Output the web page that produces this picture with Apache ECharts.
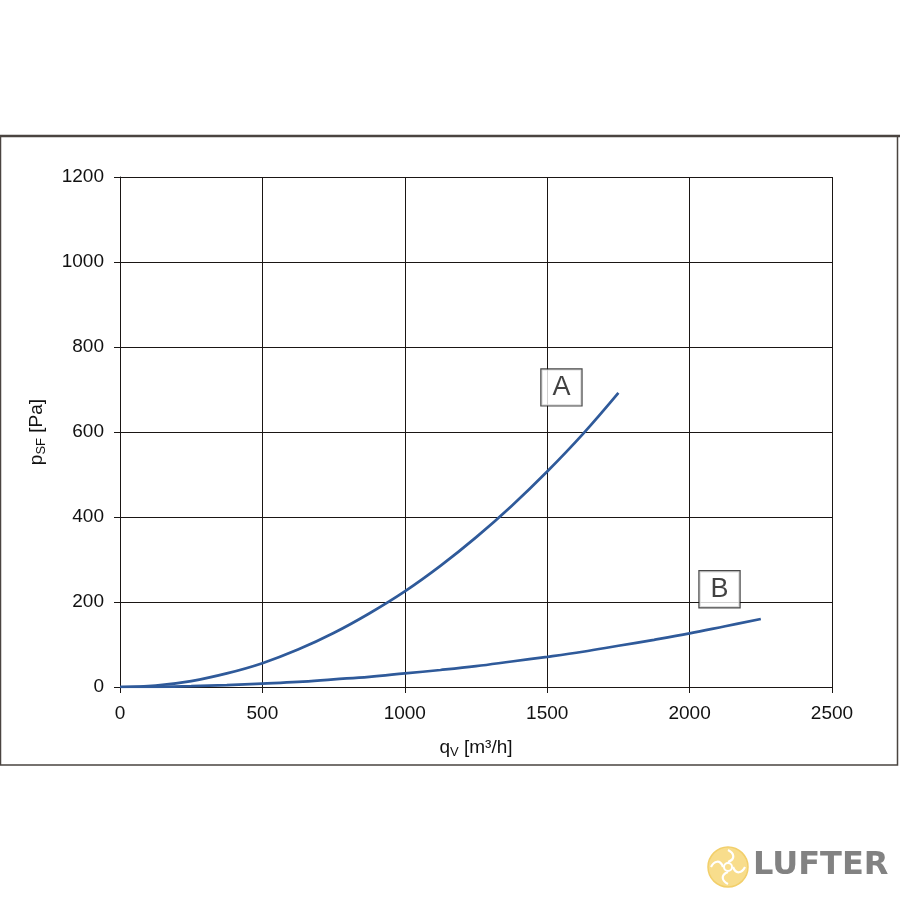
<!DOCTYPE html>
<html><head><meta charset="utf-8">
<script src="https://cdn.jsdelivr.net/npm/echarts@6/dist/echarts.min.js"></script>
<style>html,body{margin:0;padding:0;background:#fff}#c{width:900px;height:900px}</style>
</head><body><div id="c"></div>
<script>
const xTicks = [0, 500, 1000, 1500, 2000, 2500];
const yTicks = [0, 200, 400, 600, 800, 1000, 1200];
const curveA_q = [0, 125, 250, 375, 500, 625, 750, 875, 1000, 1125, 1250, 1375, 1500, 1625, 1750];
const curveA_p = [0, 3.5, 14, 32, 56, 88, 127, 173, 225, 285, 352, 426, 507, 595, 692];
const curveB_q = [0, 125, 250, 375, 500, 625, 750, 875, 1000, 1125, 1250, 1375, 1500, 1625, 1750, 1875, 2000, 2125, 2250];
const curveB_p = [0, 0.5, 2, 4.4, 8, 12, 18, 24, 32, 40, 49, 60, 71, 83, 97, 111, 126, 143, 160];
const labelNames = ['A', 'B'];
const labelPos = [[1550, 705], [2105, 230]];

const chart = echarts.init(document.getElementById('c'), null, {renderer: 'canvas'});
const font = 'Liberation Sans, Arial, sans-serif';
const lineColor = '#2f5a9a';
const gridColor = '#1a1614';
const txt = '#111';

function pairs(xs, ys){ return xs.map((x,i)=>[x, ys[i]]); }

chart.setOption({
  backgroundColor: '#fff',
  animation: false,
  grid: {left: 120, right: 68, top: 177, bottom: 213, containLabel: false},
  xAxis: {
    type: 'value', min: 0, max: 2500, interval: 500,
    name: '{n|q}{s|V}{n| [m³/h]}', nameLocation: 'middle', nameGap: 50,
    nameTextStyle: {rich: {
      n: {fontFamily: font, fontSize: 19, color: txt},
      s: {fontFamily: font, fontSize: 13, color: txt, verticalAlign: 'bottom', padding: [9,0,0,0]}
    }},
    axisLine: {show: true, lineStyle: {color: gridColor, width: 1}},
    axisTick: {show: true, inside: false, length: 6, lineStyle: {color: gridColor}},
    axisLabel: {fontFamily: font, fontSize: 19, color: txt, margin: 17,
      formatter: v => String(v)},
    splitLine: {show: true, lineStyle: {color: gridColor, width: 1}}
  },
  yAxis: {
    type: 'value', min: 0, max: 1200, interval: 200,
    name: '{n|p}{s|SF}{n| [Pa]}', nameLocation: 'middle', nameGap: 72, nameRotate: 90,
    nameTextStyle: {rich: {
      n: {fontFamily: font, fontSize: 19, color: txt},
      s: {fontFamily: font, fontSize: 13, color: txt, verticalAlign: 'bottom', padding: [9,0,0,0]}
    }},
    axisLine: {show: true, lineStyle: {color: gridColor, width: 1}},
    axisTick: {show: true, inside: false, length: 6, lineStyle: {color: gridColor}},
    axisLabel: {fontFamily: font, fontSize: 19, color: txt, margin: 16,
      formatter: v => String(v)},
    splitLine: {show: true, lineStyle: {color: gridColor, width: 1}}
  },
  series: [
    {type: 'line', data: pairs(curveA_q, curveA_p), smooth: 0.4, showSymbol: false,
     lineStyle: {color: lineColor, width: 2.7}, z: 3},
    {type: 'line', data: pairs(curveB_q, curveB_p), smooth: 0.4, showSymbol: false,
     lineStyle: {color: lineColor, width: 2.7}, z: 3},
    {type: 'scatter', symbolSize: 0, z: 5,
     data: labelPos.map((p,i)=>({value: p, name: labelNames[i]})),
     label: {show: true, position: 'inside', formatter: '{b}', fontFamily: font, fontSize: 27,
       color: '#111', backgroundColor: '#fff', borderColor: '#1a1a1a', borderWidth: 1.2,
       width: 30, align: 'center', padding: [5, 5, 4, 5]}}
  ],
  graphic: [
    {type: 'rect', shape: {x: 0.5, y: 136, width: 897, height: 629},
     style: {fill: 'none', stroke: '#4a4440', lineWidth: 1.5}, z: -1},
    {type: 'line', shape: {x1: 0, y1: 136, x2: 900, y2: 136}, style: {stroke: '#4a4440', lineWidth: 2.5}},
    {type: 'circle', shape: {cx: 728, cy: 867, r: 20}, style: {fill: '#f8dd8c', stroke: '#f2cf6a', lineWidth: 1.5}},
    {type: 'group', x: 728, y: 867, children: [0, 90, 180, 270].map(a => ({
      type: 'bezierCurve', rotation: a * Math.PI / 180,
      shape: {x1: 0, y1: -5, x2: 0, y2: -17, cpx1: 8, cpy1: -8, cpx2: 6, cpy2: -14},
      style: {stroke: '#fff', lineWidth: 2.2, fill: 'none'}
    }))},
    {type: 'circle', shape: {cx: 728, cy: 867, r: 4}, style: {fill: 'none', stroke: '#fff', lineWidth: 2}},
    {type: 'text', left: 753, top: 850, style: {text: 'LUFTER', fontFamily: 'DejaVu Sans, sans-serif', fontWeight: 'bold', fontSize: 32, fill: '#828282'}}
  ]
});
</script></body></html>
